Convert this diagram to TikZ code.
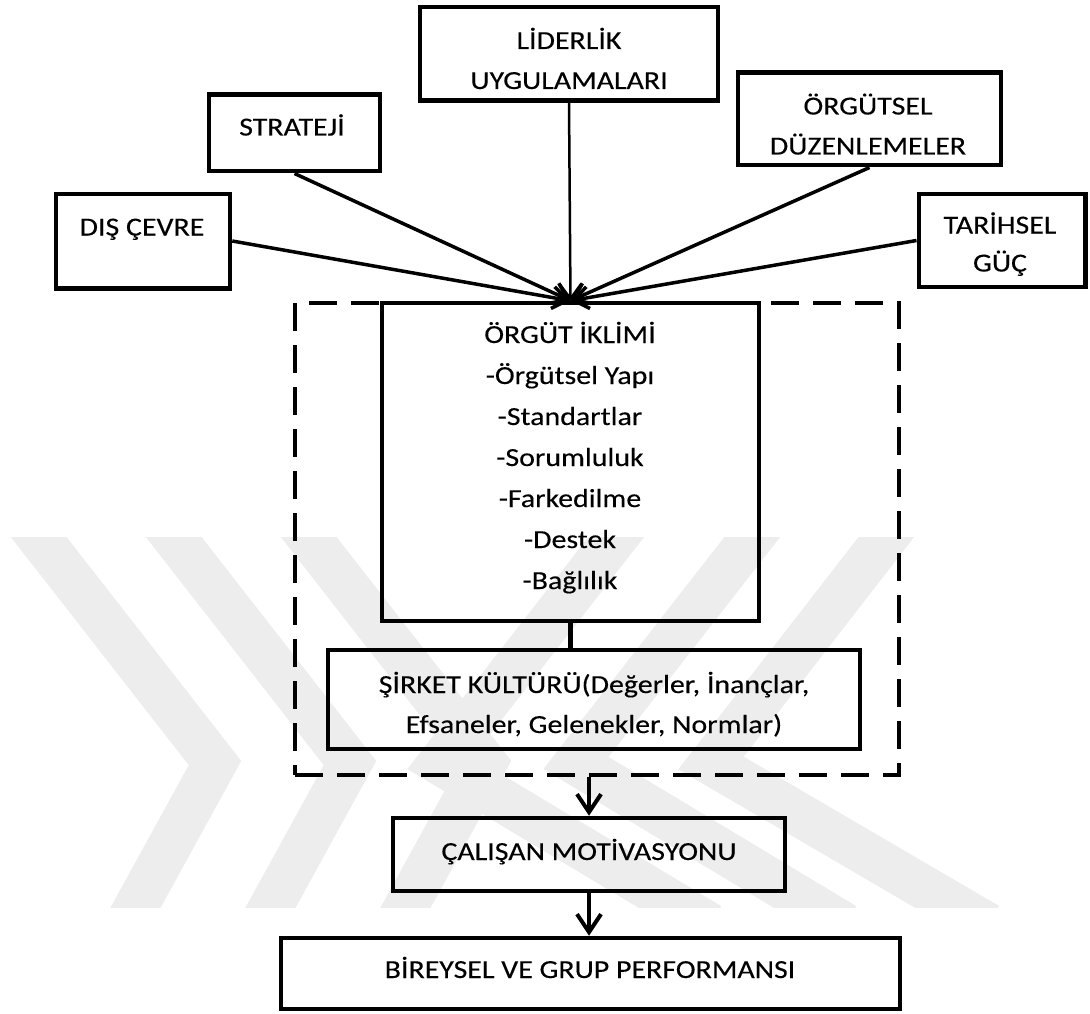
\documentclass[tikz,border=0pt]{standalone}
\usepackage{fontspec}
\setmainfont{Carlito}[FakeStretch=1.15, FakeBold=0.25]
\usetikzlibrary{arrows.meta}
\begin{document}
\begin{tikzpicture}[x=1pt,y=-1pt,
  box/.style={draw, line width=4.5pt, rectangle, inner sep=0pt},
  lbl/.style={font=\fontsize{26}{40}\selectfont, align=center, inner sep=0pt, anchor=base},
  feed/.style={line width=3.5pt, -{Straight Barb[length=15pt,width=22pt]}},
  flow/.style={line width=4pt, -{Straight Barb[length=18pt,width=24pt]}},
  wm/.style={line width=44pt, draw=black!7, line join=miter}
]
\useasboundingbox (0,0) rectangle (1090,1014);

% faint background emblem
\begin{scope}
  \clip (0,537) rectangle (1090,907);
  \foreach \i in {0,1,2}
    \draw[wm] (27+135*\i,522) -- (215+135*\i,763) -- (126+135*\i,925);
  \foreach \t/\p/\b in {616/440/680, 752/576/815, 886/711/958}
    \draw[wm] (\t+12,522) -- (\p,763) -- (\b+30,925);
\end{scope}

% influencing factors (multi-line labels sit on the baseline of their last line)
\node[box, minimum width=298pt, minimum height=93.5pt] (lid) at (569,54) {};
\node[lbl] (lid-t) at (569,89) {LİDERLİK\\UYGULAMALARI};
\node[box, minimum width=171pt, minimum height=76.5pt] (str) at (294.5,133) {};
\node[lbl] (str-t) at (292,135.5) {STRATEJİ};
\node[box, minimum width=263pt, minimum height=92.5pt] (duz) at (869.5,119) {};
\node[lbl] (duz-t) at (868,154.5) {ÖRGÜTSEL\\DÜZENLEMELER};
\node[box, minimum width=174pt, minimum height=94.5pt] (dis) at (143,241) {};
\node[lbl] (dis-t) at (142,235.5) {DIŞ ÇEVRE};
\node[box, minimum width=166.5pt, minimum height=93pt] (tar) at (1002,240.5) {};
\node[lbl, font=\fontsize{26}{38}\selectfont] (tar-t) at (1000,271.5) {TARİHSEL\\GÜÇ};

% climate and culture group
\node[box, dashed, line width=4pt, dash pattern=on 28pt off 14pt,
      minimum width=604pt, minimum height=472pt] (grp) at (597,539) {};
\node[box, minimum width=377pt, minimum height=318pt] (ikl) at (570.5,462) {};
\node[lbl, font=\fontsize{26}{41}\selectfont] (ikl-t) at (570,589)
  {ÖRGÜT İKLİMİ\\-Örgütsel Yapı\\-Standartlar\\-Sorumluluk\\-Farkedilme\\-Destek\\-Bağlılık};
\node[box, minimum width=532pt, minimum height=99pt] (kul) at (594,699.5) {};
\node[lbl] (kul-t) at (594,733) {ŞİRKET KÜLTÜRÜ(Değerler, İnançlar,\\Efsaneler, Gelenekler, Normlar)};

% outcomes
\node[box, minimum width=392pt, minimum height=73pt] (mot) at (589,854.5) {};
\node[lbl] (mot-t) at (589,860) {ÇALIŞAN MOTİVASYONU};
\node[box, minimum width=619pt, minimum height=71pt] (per) at (590.5,973.5) {};
\node[lbl] (per-t) at (590,978) {BİREYSEL VE GRUP PERFORMANSI};

% connectors
\draw[feed] (dis.east) -- (ikl.north);
\draw[feed] (str.south) -- (ikl.north);
\draw[feed, line width=2.5pt] (lid.south) -- (ikl.north);
\draw[feed] (duz.south) -- (ikl.north);
\draw[feed] (tar.west) -- (ikl.north);
\draw[line width=4.5pt] (ikl.south) -- (ikl.south |- kul.north);
\draw[flow] (mot.north |- grp.south) -- (mot.north);
\draw[flow] (mot.south) -- (mot.south |- per.north);
\end{tikzpicture}
\end{document}
